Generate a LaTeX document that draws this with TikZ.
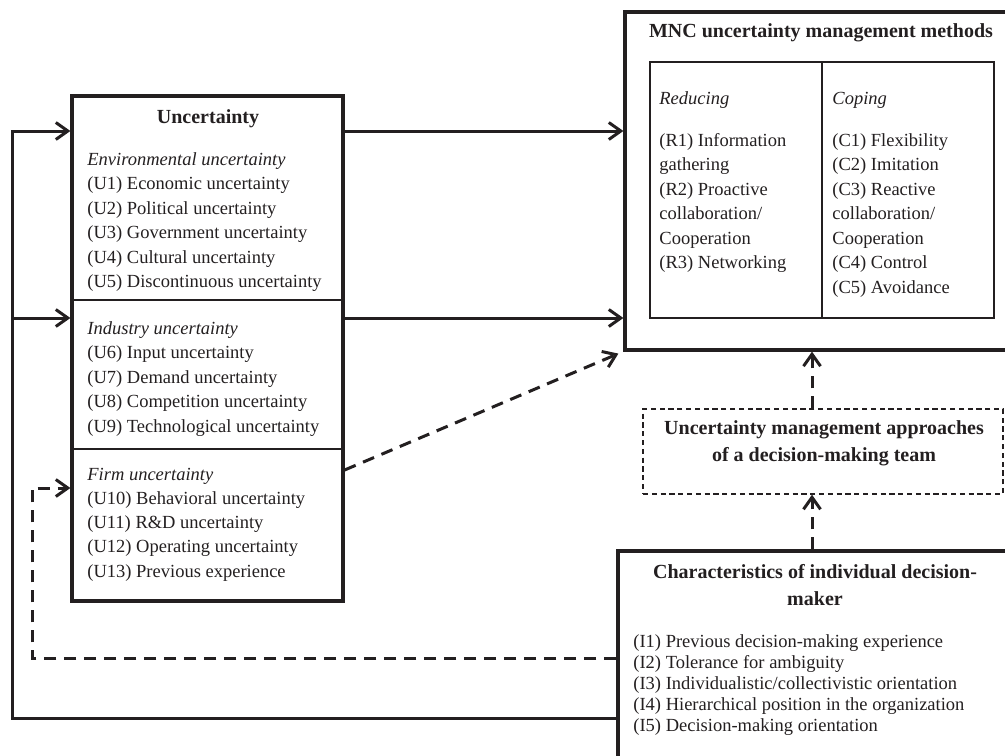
\documentclass[tikz,border=0pt]{standalone}
\usepackage{fontspec}
\setmainfont{Liberation Serif}
\usepackage{tikz}
\usetikzlibrary{arrows.meta,positioning,calc,fit}
\definecolor{ink}{RGB}{35,31,32}
\newcommand{\txtsize}{\fontsize{9.25}{12.3}\selectfont}
\newcommand{\ttlsize}{\fontsize{10}{13}\selectfont\bfseries}
\tikzset{
  >={Straight Barb[length=6pt,width=8.5pt]},
  box/.style={draw=ink,line width=1.6pt,inner sep=0pt},          % main frame
  tbox/.style={draw=ink,line width=0.65pt,inner sep=0pt},        % inner table
  dbox/.style={draw=ink,line width=0.7pt,dash pattern=on 2.6pt off 1.8pt,inner sep=0pt},
  divline/.style={draw=ink,line width=0.65pt},
  txt/.style={font=\txtsize,text=ink,inner sep=0pt,anchor=base west},
  sub/.style={txt,font=\txtsize\itshape},
  ttl/.style={font=\ttlsize,text=ink,inner sep=0pt,anchor=base},
  flow/.style={->,draw=ink,line width=1.5pt},
  dflow/.style={flow,dash pattern=on 6pt off 4pt},
}

\begin{document}
\begin{tikzpicture}[x=0.5pt,y=-0.5pt]
  \useasboundingbox (0,0) rectangle (1005,755);
  \clip (0,0) rectangle (1005,755);

  % ---- frames ----
  \node[box,fit={(72,96) (343,601)}]    (ubox) {};
  \node[box,fit={(625,12) (1015,350)}]  (mnc)  {};
  \node[tbox,fit={(650,62) (994,318)}]  (tbl)  {};
  \node[dbox,fit={(643,409) (1003,494)}](app)  {};
  \node[box,fit={(618,551) (1015,770)}] (chr)  {};

  % ---- helper rows / columns ----
  \coordinate (divA) at (0,300);
  \coordinate (divB) at (0,449);
  \coordinate (rowA) at (0,131);
  \coordinate (rowB) at (0,318);
  \coordinate (rowF) at (0,470);
  \coordinate (rowC) at (0,488);
  \coordinate (rowD) at (0,658);
  \coordinate (rowE) at (0,718);
  \coordinate (colS) at (12,0);
  \coordinate (colD) at (32,0);
  \coordinate (colM) at (812,0);

  \draw[divline] (ubox.west |- divA) -- (ubox.east |- divA);
  \draw[divline] (ubox.west |- divB) -- (ubox.east |- divB);
  \draw[divline] (tbl.north) -- (tbl.south);

  % ---- uncertainty ----
  \node[ttl] (uttl) at (208,123) {Uncertainty};
  \node[sub] (env) at (87,165) {Environmental uncertainty};
  \foreach \t [count=\i] in {Economic uncertainty,Political uncertainty,
      Government uncertainty,Cultural uncertainty,Discontinuous uncertainty}
    \node[txt] (u\i) at (87,{165+24.5*\i}) {(U\i) \t};
  \node[sub] (ind) at (87,334) {Industry uncertainty};
  \foreach \t [count=\i from 6] in {Input uncertainty,Demand uncertainty,
      Competition uncertainty,Technological uncertainty}
    \node[txt] (u\i) at (87,{334+24.5*(\i-5)}) {(U\i) \t};
  \node[sub] (frm) at (87,480) {Firm uncertainty};
  \foreach \t [count=\i from 10] in {Behavioral uncertainty,R\&D uncertainty,
      Operating uncertainty,Previous experience}
    \node[txt] (u\i) at (87,{480+24.3*(\i-9)}) {(U\i) \t};

  % ---- methods ----
  \node[ttl] (mttl) at (821,37) {MNC uncertainty management methods};
  \node[sub] (red) at (659,104) {Reducing};
  \node[sub] (cop) at (832,104) {Coping};
  \foreach \t [count=\i from 0] in {(R1) Information,gathering,(R2) Proactive,
      collaboration/,Cooperation,(R3) Networking}
    \node[txt] (r\i) at (659,{146+24.5*\i}) {\t};
  \foreach \t [count=\i from 0] in {(C1) Flexibility,(C2) Imitation,(C3) Reactive,
      collaboration/,Cooperation,(C4) Control,(C5) Avoidance}
    \node[txt] (c\i) at (832,{146+24.5*\i}) {\t};

  % ---- team approaches ----
  \node[ttl] (att1) at (824,434) {Uncertainty management approaches};
  \node[ttl] (att2) at (824,461) {of a decision-making team};

  % ---- individual ----
  \node[ttl] (ctt1) at (815,578) {Characteristics of individual decision-};
  \node[ttl] (ctt2) at (815,605) {maker};
  \foreach \t [count=\i] in {Previous decision-making experience,
      Tolerance for ambiguity,Individualistic/collectivistic orientation,
      Hierarchical position in the organization,Decision-making orientation}
    \node[txt] (i\i) at (633,{647+21*(\i-1)}) {(I\i) \t};

  % ---- links ----
  \draw[flow]  (ubox.east |- rowA) -- (mnc.west |- rowA);
  \draw[flow]  (ubox.east |- rowB) -- (mnc.west |- rowB);
  \draw[dflow] (ubox.east |- rowF) -- ([shift={(-5,2)}]mnc.south west);
  \draw[dflow] (app.north -| colM) -- (mnc.south -| colM);
  \draw[dflow] (chr.north -| colM) -- (app.south -| colM);
  \draw[flow]  (chr.west |- rowE) -| (colS |- rowA) -- (ubox.west |- rowA);
  \draw[flow]  (colS |- rowB) -- (ubox.west |- rowB);
  \draw[dflow] (chr.west |- rowD) -| (colD |- rowC) -- (ubox.west |- rowC);
\end{tikzpicture}
\end{document}
